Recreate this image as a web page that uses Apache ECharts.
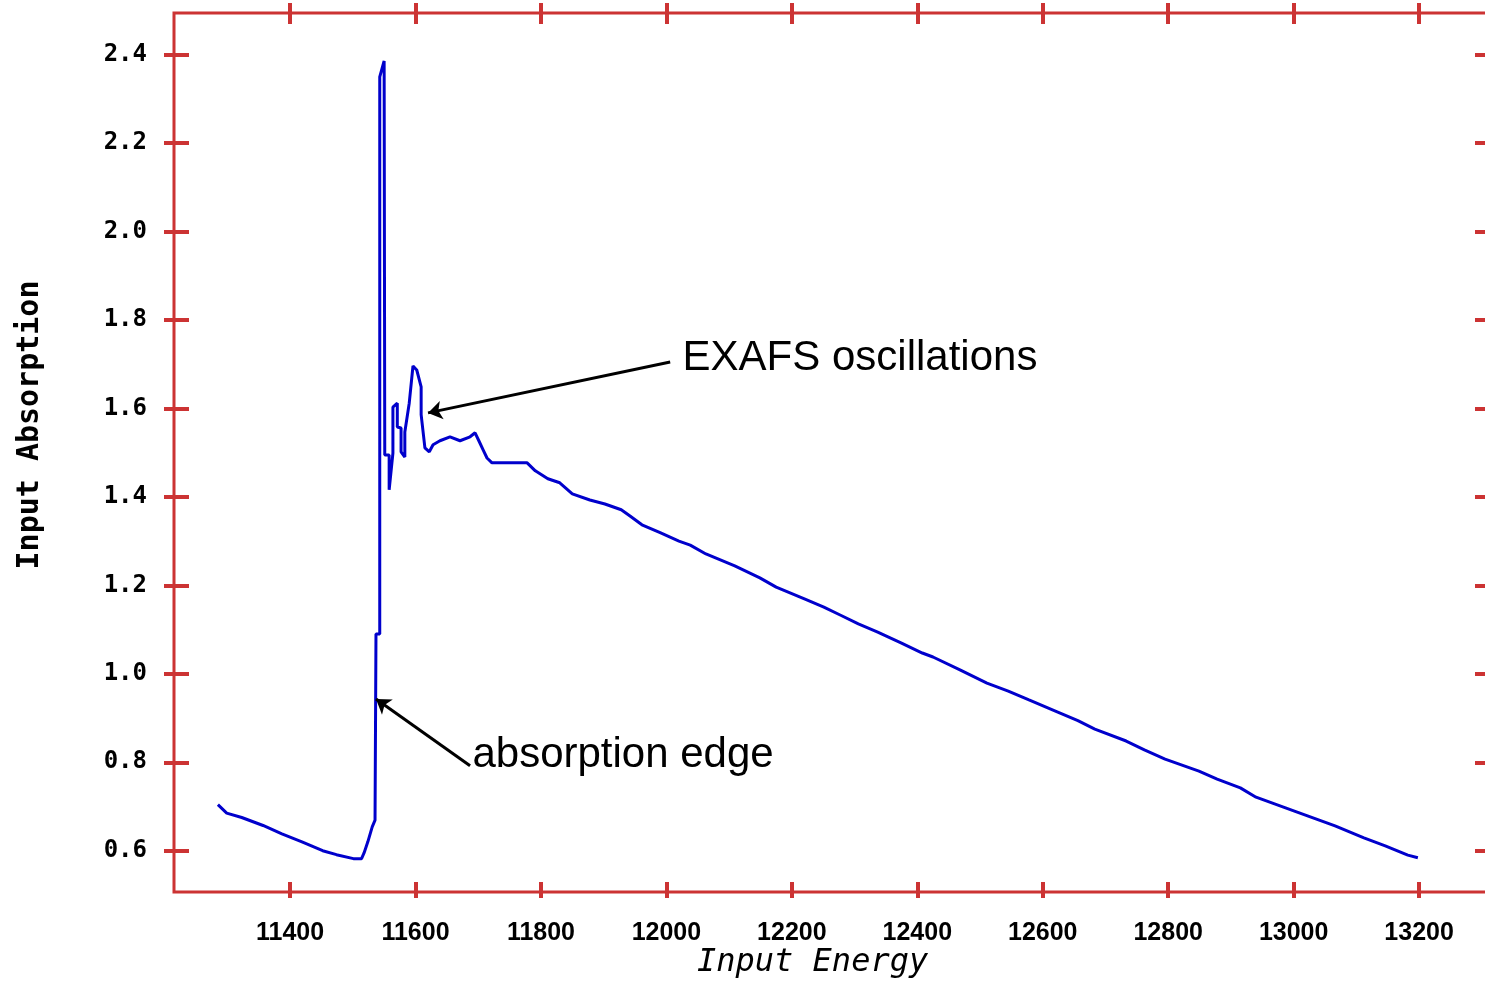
<!DOCTYPE html>
<html><head><meta charset="utf-8">
<script src="https://cdn.jsdelivr.net/npm/echarts@6/dist/echarts.min.js"></script>
<style>html,body{margin:0;padding:0;background:#fff}#c{width:1485px;height:990px}</style>
</head><body><div id="c"></div>
<script>
// ---- data ----
const energy = [11285,11299,11323,11340,11357,11387,11419,11452,11474,11501,11514,11518,11524,11531,11535.5,
  11537,11537,11543,11543,11550,11551,11558,11558,11564,11564,11571,11571,11577,11577,11583,11583,11590,11596,11602,
  11609,11609,11615,11622,11628,11639,11655,11671,11687,11695,11701,11708,11714,11722,11778,11791,11811,11830,11850,
  11878,11902,11928,11942,11961,11990,12020,12038,12063,12109,12149,12175,12221,12251,12277,12306,12336,12374,12408,
  12425,12468,12511,12545,12578,12623,12656,12683,12733,12762,12795,12849,12878,12915,12940,12975,13010,13066,13112,
  13146,13182,13198];
const absorption = [0.704,0.685,0.675,0.666,0.657,0.638,0.620,0.600,0.591,0.582,0.582,0.595,0.620,0.654,0.669,
  0.669,1.090,1.090,2.350,2.386,1.495,1.495,1.416,1.499,1.603,1.612,1.558,1.556,1.502,1.490,1.547,1.612,1.696,1.687,
  1.649,1.586,1.511,1.502,1.518,1.527,1.536,1.527,1.536,1.545,1.527,1.506,1.488,1.477,1.477,1.459,1.441,1.432,1.407,
  1.393,1.384,1.371,1.357,1.337,1.319,1.300,1.291,1.271,1.244,1.217,1.196,1.169,1.151,1.133,1.113,1.095,1.070,1.047,
  1.038,1.009,0.979,0.961,0.941,0.914,0.894,0.875,0.848,0.828,0.807,0.780,0.762,0.742,0.721,0.703,0.685,0.656,0.629,
  0.611,0.590,0.584];
const xTickValues = [11400,11600,11800,12000,12200,12400,12600,12800,13000,13200];
const yTickValues = [0.6,0.8,1.0,1.2,1.4,1.6,1.8,2.0,2.2,2.4];
const xTitle = 'Input Energy';
const yTitle = 'Input Absorption';
const annotationTexts = ['EXAFS oscillations', 'absorption edge'];
const annotationTextAt = [[12025, 1.714], [11690, 0.816]];
const arrowFrom = [[12006, 1.705], [11687, 0.792]];
const arrowTo = [[11620, 1.590], [11537, 0.943]];

// ---- chart ----
const X_MIN = 11215, X_MAX = 13313, Y_MIN = 0.5066, Y_MAX = 2.4943;
const RED = '#CC3333', BLUE = '#0000CC';
function xAx(pos, inside, len, labels) {
  return {
    type: 'value', position: pos, min: X_MIN, max: X_MAX, name: '',
    axisLine: { show: false }, splitLine: { show: false },
    axisTick: { show: true, inside: inside, length: len, customValues: xTickValues,
      lineStyle: { color: RED, width: 4 } },
    axisLabel: labels ? { show: true, customValues: xTickValues, margin: 29, color: '#000',
      fontFamily: '"Liberation Sans", sans-serif', fontWeight: 'bold', fontSize: 25,
      formatter: v => String(Math.round(v)) } : { show: false }
  };
}
function yAx(pos, inside, len, labels) {
  return {
    type: 'value', position: pos, min: Y_MIN, max: Y_MAX, name: '',
    axisLine: { show: false }, splitLine: { show: false },
    axisTick: { show: true, inside: inside, length: len, customValues: yTickValues,
      lineStyle: { color: RED, width: 4 } },
    axisLabel: labels ? { show: true, customValues: yTickValues, margin: 27, color: '#000',
      fontFamily: '"DejaVu Sans Mono", monospace', fontWeight: 'bold', fontSize: 24,
      formatter: v => v.toFixed(1) } : { show: false }
  };
}
const chart = echarts.init(document.getElementById('c'), null, { renderer: 'canvas' });
chart.setOption({
  animation: false,
  backgroundColor: '#fff',
  grid: { left: 174, top: 13, width: 1316, height: 879, show: true,
    borderColor: RED, borderWidth: 3, backgroundColor: 'transparent',
    containLabel: false, outerBoundsMode: 'none' },
  xAxis: [xAx('bottom', false, 6, true), xAx('bottom', true, 10, false),
          xAx('top', false, 10, false), xAx('top', true, 11, false)],
  yAxis: [yAx('left', false, 10, true), yAx('left', true, 15, false), yAx('right', true, 15, false)],
  graphic: [
    { type: 'text', left: 808 - 111, top: 947, style: { text: xTitle, fill: '#000',
        font: 'italic 32px "DejaVu Sans Mono", monospace' } },
    { type: 'text', x: 15, y: 425, rotation: Math.PI / 2,
      style: { text: yTitle, fill: '#000', align: 'center', verticalAlign: 'top',
        font: 'bold 30px "DejaVu Sans Mono", monospace' } }
  ],
  series: [{
    type: 'line', xAxisIndex: 0, yAxisIndex: 0,
    data: energy.map((e, i) => [e, absorption[i]]),
    showSymbol: false, symbol: 'none', smooth: false,
    lineStyle: { color: BLUE, width: 3 }, itemStyle: { color: BLUE },
    markLine: {
      silent: true, animation: false, symbol: ['none', 'arrow'], symbolSize: 14,
      lineStyle: { color: '#000', width: 3, type: 'solid' }, label: { show: false },
      data: arrowFrom.map((f, i) => [{ coord: f }, { coord: arrowTo[i] }])
    },
    markPoint: {
      silent: true, animation: false, symbol: 'rect', symbolSize: 1,
      itemStyle: { color: 'transparent' },
      label: { show: true, position: 'right', distance: 0, color: '#000',
        fontFamily: '"Liberation Sans", sans-serif', fontSize: 42 },
      data: annotationTexts.map((t, i) => ({ coord: annotationTextAt[i], value: t,
        label: { formatter: t } }))
    }
  }]
});
</script></body></html>
